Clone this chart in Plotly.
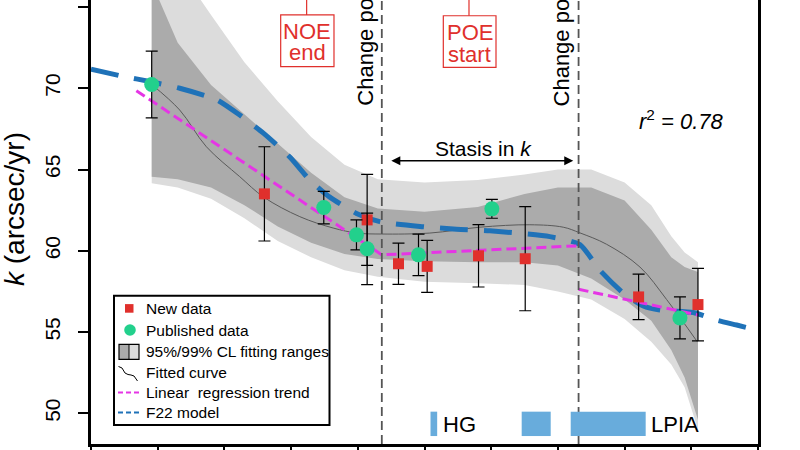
import plotly.graph_objects as go

# ---------------- data ----------------
new_x = [2.60, 4.14, 4.61, 5.04, 5.81, 6.51, 8.21, 9.10]
new_y = [63.5, 61.9, 59.2, 59.04, 59.69, 59.51, 57.16, 56.69]
new_err = [2.9, 2.8, 1.27, 1.6, 1.92, 3.2, 1.4, 2.23]

pub_x = [0.91, 3.49, 3.98, 4.14, 4.91, 6.01, 8.83]
pub_y = [70.23, 62.66, 60.98, 60.12, 59.75, 62.58, 55.87]
pub_err = [2.05, 1.0, 0.92, 2.2, 1.28, 0.58, 1.29]

band_x = [0.91, 1.3, 1.8, 2.3, 2.8, 3.3, 3.8, 4.3, 5.0, 5.8, 6.5, 7.0, 7.5, 8.0, 8.4, 8.7, 8.9, 9.1]
cl95_upper = [76.5, 72.8, 70.2, 68.4, 66.6, 64.8, 63.3, 62.6, 62.4, 62.7, 63.5, 63.9, 63.9, 63.1, 61.3, 59.6, 59.0, 58.7]
cl95_lower = [64.56, 64.4, 63.9, 62.8, 61.5, 60.5, 59.8, 59.5, 59.35, 59.3, 59.3, 59.1, 58.3, 57.0, 55.7, 53.9, 52.2, 49.6]
cl99_upper = [80.0, 77.5, 74.5, 71.6, 69.2, 67.0, 65.3, 64.4, 64.2, 64.35, 64.7, 65.0, 65.0, 64.2, 62.8, 60.9, 59.9, 59.3]
cl99_lower = [64.15, 63.9, 63.2, 62.0, 60.6, 59.6, 58.8, 58.4, 58.1, 58.0, 57.9, 57.5, 57.0, 55.8, 54.4, 53.0, 51.6, 49.0]

fit_x = [0.91, 1.33, 1.73, 2.23, 2.59, 3.13, 3.63, 3.99, 4.36, 5.08, 5.83, 6.58, 7.08, 7.33, 7.73, 8.23, 8.63, 9.09]
fit_y = [70.23, 68.66, 66.4, 64.56, 63.3, 62.1, 61.4, 61.09, 61.03, 61.09, 61.45, 61.6, 61.45, 61.1, 60.4, 59.0, 57.0, 54.4]

reg_x = [0.68, 4.36, 7.28, None, 7.31, 9.10]
reg_y = [69.85, 59.75, 60.30, None, 57.63, 56.05]

f22_x = [0.0, 0.46, 0.9, 1.33, 1.88, 2.23, 2.58, 2.98, 3.28, 3.58, 3.98, 4.33, 4.98, 5.48, 5.98, 6.88, 7.33, 7.63, 7.98, 8.28, 8.53, 9.03, 9.38, 9.68, 10.0]
f22_y = [71.18, 70.75, 70.4, 70.0, 69.3, 68.35, 67.25, 65.77, 64.35, 63.3, 62.3, 61.79, 61.48, 61.32, 61.23, 60.87, 60.38, 58.8, 57.4, 56.6, 56.35, 56.2, 55.73, 55.43, 55.1]

change_points = [4.36, 7.31]
glacial_names = ["HG", "", "LPIA"]
glacial_x0 = [5.09, 6.457, 7.192]
glacial_x1 = [5.19, 6.892, 8.316]

legend_labels = ["New data", "Published data", "95%/99% CL fitting ranges",
                 "Fitted curve", "Linear  regression trend", "F22 model"]

y_ticks = [50, 55, 60, 65, 70, 75]
x_ticks = list(range(11))

FONT = "Liberation Sans, Arial, Helvetica, sans-serif"
RED = "#e0302c"
GREEN = "#22d08c"
MAG = "#e535e5"
BLUE = "#1f72b8"
LBLUE = "#68acdc"
DARKBAND = "#ababab"
LIGHTBAND = "#dcdcdc"

# layout geometry (pixels of the 800x450 page)
ML, MR, MT, MB = 91, 42, 0, 6
PW, PH = 800 - ML - MR, 450 - MT - MB


def px(xp):
    return (xp - ML) / PW


def py(yp):
    return (MT + PH - yp) / PH


fig = go.Figure()

# bands
fig.add_trace(go.Scatter(
    x=band_x + band_x[::-1], y=cl99_upper + cl99_lower[::-1],
    fill="toself", fillcolor=LIGHTBAND, line=dict(width=0), mode="lines",
    showlegend=False, hoverinfo="skip"))
fig.add_trace(go.Scatter(
    x=band_x + band_x[::-1], y=cl95_upper + cl95_lower[::-1],
    fill="toself", fillcolor=DARKBAND, line=dict(width=0), mode="lines",
    name=legend_labels[2], hoverinfo="skip"))

fig.add_trace(go.Scatter(x=fit_x, y=fit_y, mode="lines", line=dict(color="#5a5a5a", width=1, shape="spline"),
                         name=legend_labels[3]))
fig.add_trace(go.Scatter(x=f22_x, y=f22_y, mode="lines",
                         line=dict(color=BLUE, width=5, dash="28px,16px", shape="spline", smoothing=0.6),
                         name=legend_labels[5]))
fig.add_trace(go.Scatter(x=reg_x, y=reg_y, mode="lines", connectgaps=False,
                         line=dict(color=MAG, width=3, dash="10px,5px"),
                         name=legend_labels[4]))
fig.add_trace(go.Scatter(x=new_x, y=new_y, mode="markers",
                         marker=dict(symbol="square", size=11, color=RED),
                         error_y=dict(type="data", array=new_err, color="black", thickness=1.2, width=6),
                         name=legend_labels[0]))
fig.add_trace(go.Scatter(x=pub_x, y=pub_y, mode="markers",
                         marker=dict(symbol="circle", size=15, color=GREEN),
                         error_y=dict(type="data", array=pub_err, color="black", thickness=1.2, width=6),
                         name=legend_labels[1]))

shapes = []
for cp in change_points:
    shapes.append(dict(type="line", xref="x", yref="paper", x0=cp, x1=cp, y0=0, y1=1,
                       line=dict(color="#555555", width=1.8, dash="9px,5px")))
for x0, x1 in zip(glacial_x0, glacial_x1):
    shapes.append(dict(type="rect", xref="x", yref="y", x0=x0, x1=x1, y0=48.6, y1=50.1,
                       fillcolor=LBLUE, line=dict(width=0)))
# NOE / POE boxes
shapes.append(dict(type="rect", xref="x", yref="y", x0=2.844, x1=3.643, y0=71.33, y1=74.51,
                   line=dict(color=RED, width=1.2)))
shapes.append(dict(type="line", xref="x", yref="y", x0=3.233, x1=3.233, y0=74.51, y1=76,
                   line=dict(color=RED, width=1.2)))
shapes.append(dict(type="rect", xref="x", yref="y", x0=5.282, x1=6.072, y0=71.29, y1=74.46,
                   line=dict(color=RED, width=1.2)))
shapes.append(dict(type="line", xref="x", yref="y", x0=5.667, x1=5.667, y0=74.46, y1=76,
                   line=dict(color=RED, width=1.2)))

# ----- hand-drawn legend (box, icons) -----
P = dict(xref="paper", yref="paper")
shapes.append(dict(type="rect", x0=px(114), x1=px(329.5), y0=py(295.7), y1=py(425),
                   fillcolor="white", line=dict(color="black", width=2), **P))
item_y = [308.4, 330.0, 351.8, 372.0, 392.6, 412.4]
shapes.append(dict(type="rect", x0=px(125), x1=px(133.5), y0=py(item_y[0] - 4.3), y1=py(item_y[0] + 4.3),
                   fillcolor=RED, line=dict(width=0), **P))
shapes.append(dict(type="circle", x0=px(124.2), x1=px(135.8), y0=py(item_y[1] - 5.8), y1=py(item_y[1] + 5.8),
                   fillcolor=GREEN, line=dict(width=0), **P))
shapes.append(dict(type="rect", x0=px(119), x1=px(129), y0=py(item_y[2] - 7.5), y1=py(item_y[2] + 7.5),
                   fillcolor=DARKBAND, line=dict(width=0), **P))
shapes.append(dict(type="rect", x0=px(129), x1=px(139), y0=py(item_y[2] - 7.5), y1=py(item_y[2] + 7.5),
                   fillcolor=LIGHTBAND, line=dict(width=0), **P))
shapes.append(dict(type="rect", x0=px(119), x1=px(139), y0=py(item_y[2] - 7.5), y1=py(item_y[2] + 7.5),
                   line=dict(color="black", width=1.2), **P))
shapes.append(dict(type="line", x0=px(129), x1=px(129), y0=py(item_y[2] - 7.5), y1=py(item_y[2] + 7.5),
                   line=dict(color="black", width=1), **P))
wave = [(118.5, 366.5), (122, 368), (125, 373), (128, 374.5), (131, 375), (134, 376), (137.5, 381)]
path = "M " + " L ".join(f"{px(a):.5f},{py(b):.5f}" for a, b in wave)
shapes.append(dict(type="path", path=path, line=dict(color="black", width=1), **P))
shapes.append(dict(type="line", x0=px(118), x1=px(140), y0=py(item_y[4]), y1=py(item_y[4]),
                   line=dict(color=MAG, width=2, dash="5px,3px"), **P))
shapes.append(dict(type="line", x0=px(118), x1=px(140), y0=py(item_y[5]), y1=py(item_y[5]),
                   line=dict(color=BLUE, width=2, dash="5px,3px"), **P))

ann = []
for lab, yy in zip(legend_labels, item_y):
    ann.append(dict(x=px(143.5), y=py(yy), xref="paper", yref="paper", text=lab, showarrow=False,
                    xanchor="left", yanchor="middle", font=dict(size=15.5)))

# y-axis title (placed as rotated text)
ann.append(dict(x=px(15), y=py(209), xref="paper", yref="paper", text="<i>k</i> (arcsec/yr)",
                textangle=-90, showarrow=False, xanchor="center", yanchor="middle", font=dict(size=28)))

for cp in change_points:
    ann.append(dict(x=cp - 0.25, y=68.78, xref="x", yref="y", text="Change point", textangle=-90,
                    showarrow=False, xanchor="center", yanchor="bottom", font=dict(size=22)))
ann += [
    dict(x=3.243, y=73.5, text="NOE", showarrow=False, height=22, font=dict(size=22, color=RED)),
    dict(x=3.243, y=72.2, text="end", showarrow=False, height=22, font=dict(size=22, color=RED)),
    dict(x=5.677, y=73.47, text="POE", showarrow=False, height=22, font=dict(size=22, color=RED)),
    dict(x=5.677, y=72.12, text="start", showarrow=False, height=22, font=dict(size=22, color=RED)),
    dict(x=5.89, y=66.3, text="Stasis in <i>k</i>", showarrow=False, font=dict(size=21)),
    dict(x=7.23, y=65.54, ax=4.48, ay=65.54, axref="x", ayref="y", text="", showarrow=True,
         arrowhead=2, arrowside="end+start", arrowwidth=1.5, arrowsize=1.2, arrowcolor="black"),
    dict(x=8.85, y=68.05, text="<i>r</i><sup>2</sup><i> = 0.78</i>", showarrow=False, font=dict(size=22)),
]
for name, x1 in zip(glacial_names, glacial_x1):
    if name:
        ann.append(dict(x=x1 + 0.05, y=49.3, text=name, showarrow=False, xanchor="left",
                        font=dict(size=22)))
for a in ann:
    a.setdefault("xref", "x")
    a.setdefault("yref", "y")

fig.update_layout(
    width=800, height=450,
    margin=dict(l=ML, r=MR, t=MT, b=MB, autoexpand=False),
    plot_bgcolor="white", paper_bgcolor="white",
    font=dict(family=FONT, color="black"),
    showlegend=False,
    shapes=shapes, annotations=ann,
    xaxis=dict(range=[0, 10], showgrid=False, zeroline=False, showline=True, linecolor="black",
               linewidth=2.5, ticks="outside", ticklen=8, tickwidth=2, tickcolor="black",
               tickvals=x_ticks, showticklabels=False, mirror=False, automargin=False),
    yaxis=dict(range=[48.11, 75.43], showgrid=False, zeroline=False, showline=True, linecolor="black",
               linewidth=2.5, mirror=True, ticks="outside", ticklen=10, tickwidth=2, tickcolor="black",
               tickvals=y_ticks, tickangle=-90, tickfont=dict(size=21), ticklabelstandoff=10,
               automargin=False),
)

fig.write_html("out.html", config={"displayModeBar": False},
               post_script="document.body.style.margin='0';")
